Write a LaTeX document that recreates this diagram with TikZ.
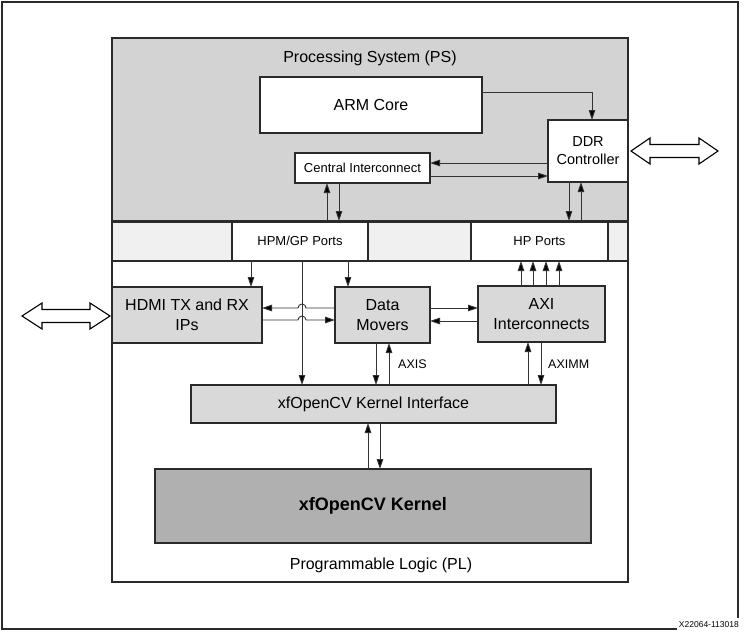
\documentclass[tikz,border=0pt]{standalone}
\usepackage{fontspec}
\setmainfont{Liberation Sans}
\usetikzlibrary{arrows.meta}
\definecolor{psgray}{HTML}{D3D3D3}
\definecolor{boxgray}{HTML}{D9D9D9}
\definecolor{kgray}{HTML}{B0B0B0}
\definecolor{stripgray}{HTML}{F0F0F0}
\definecolor{edge}{HTML}{2A2A2A}
\definecolor{wire}{HTML}{333333}
\begin{document}
\begin{tikzpicture}[x=1pt,y=-1pt,
  blk/.style={draw=edge, line width=1.3pt, inner sep=0pt, outer sep=0pt, align=center,
    font=\fontsize{16}{20}\selectfont},
  whitebox/.style={blk, fill=white},
  graybox/.style={blk, fill=boxgray},
  cell/.style={blk, fill=stripgray},
  portcell/.style={blk, fill=white, font=\fontsize{13}{15}\selectfont},
  arr/.style={-{Triangle[length=10pt,width=6.5pt,fill=black]}, line width=0.9pt, draw=wire},
  lbl/.style={inner sep=0pt, font=\fontsize{16}{20}\selectfont},
  small/.style={inner sep=0pt, font=\fontsize{12.5}{15}\selectfont},
  dblarrow/.style={draw=black, line width=1.1pt, fill=white, line join=miter}
]
\useasboundingbox (0,0) rectangle (745,635);

% outer frame
\draw[line width=1.6pt, draw=edge] (677,629) -- (2,629) -- (2,2) -- (738,2) -- (738,618);
\node[inner sep=0pt, anchor=east, font=\fontsize{8.5}{9}\selectfont] (fig) at (739,624.5) {X22064-113018};

% PS, strip, PL
\node[blk, fill=psgray, minimum width=516pt, minimum height=183pt] (ps) at (370,129.5) {};
\node[cell, minimum width=120pt, minimum height=40pt] (s1) at (172,241) {};
\node[portcell, minimum width=136pt, minimum height=40pt] (hpm) at (300,241) {HPM/GP Ports};
\node[cell, minimum width=103pt, minimum height=40pt] (s3) at (419.5,241) {};
\node[portcell, minimum width=137pt, minimum height=40pt] (hp) at (539.5,241) {HP Ports};
\node[cell, minimum width=20pt, minimum height=40pt] (s5) at (618,241) {};
\node[whitebox, minimum width=516pt, minimum height=321pt] (pl) at (370,421.5) {};
\draw[line width=3pt, draw=edge] (ps.south west) -- (ps.south east);

\node[lbl] (pslabel) at (370,58) {Processing System (PS)};
\node[lbl] (pllabel) at (381,565) {Programmable Logic (PL)};

% PS blocks
\node[whitebox, minimum width=222pt, minimum height=56pt] (arm) at (371,105) {ARM Core};
\node[whitebox, minimum width=80pt, minimum height=62pt, font=\fontsize{14.5}{18}\selectfont] (ddr) at (588,151) {DDR\\Controller};
\node[whitebox, minimum width=135pt, minimum height=30pt, font=\fontsize{13}{15}\selectfont] (ci) at (362.5,168) {Central Interconnect};

% PL blocks
\node[graybox, minimum width=150pt, minimum height=56pt] (hdmi) at (187,315) {HDMI TX and RX\\IPs};
\node[graybox, minimum width=95pt, minimum height=56pt] (dm) at (382.5,315) {Data\\Movers};
\node[graybox, minimum width=127pt, minimum height=56pt] (axi) at (541.5,314) {AXI\\Interconnects};
\node[graybox, minimum width=365pt, minimum height=38pt] (ki) at (373.5,404) {xfOpenCV Kernel Interface};
\node[blk, fill=kgray, minimum width=436pt, minimum height=74pt, font=\fontsize{18}{22}\selectfont\bfseries] (kern) at (373,506) {xfOpenCV Kernel};

% external double arrows
\draw[dblarrow] (631,151) -- (650,138) -- (650,144.5) -- (699,144.5) -- (699,138) -- (718,151)
  -- (699,164) -- (699,157.5) -- (650,157.5) -- (650,164) -- cycle;
\draw[dblarrow] (22,316) -- (42,303) -- (42,309.5) -- (90,309.5) -- (90,303) -- (110,316)
  -- (90,329) -- (90,322.5) -- (42,322.5) -- (42,329) -- cycle;

% PS connectors
\draw[arr] (arm.east |- 0,92) -| (ddr.north -| 592,0);
\draw[arr] (ddr.west |- 0,163) -- (ci.east |- 0,163);
\draw[arr] (ci.east |- 0,176) -- (ddr.west |- 0,176);
\draw[arr] (hpm.north -| 327,0) -- (ci.south -| 327,0);
\draw[arr] (ci.south -| 339,0) -- (hpm.north -| 339,0);
\draw[arr] (ddr.south -| 569,0) -- (hp.north -| 569,0);
\draw[arr] (hp.north -| 581,0) -- (ddr.south -| 581,0);

% PL connectors
\draw[arr] (hpm.south -| 251,0) -- (hdmi.north -| 251,0);
\draw[arr] (hpm.south -| 348,0) -- (dm.north -| 348,0);
\draw[arr] (hpm.south -| 302,0) -- (ki.north -| 302,0);
\draw[arr] (dm.west |- 0,308) -- (306,308) arc[start angle=0, end angle=180, radius=4pt] -- (hdmi.east |- 0,308);
\draw[arr] (hdmi.east |- 0,320) -- (298,320) arc[start angle=180, end angle=0, radius=4pt] -- (dm.west |- 0,320);
\draw[arr] (dm.east |- 0,308) -- (axi.west |- 0,308);
\draw[arr] (axi.west |- 0,321) -- (dm.east |- 0,321);
\foreach \xx in {521,533,546,559} {
  \draw[arr] (axi.north -| \xx,0) -- (hp.south -| \xx,0);
}
\draw[arr] (dm.south -| 376,0) -- (ki.north -| 376,0);
\draw[arr] (ki.north -| 389,0) -- (dm.south -| 389,0);
\draw[arr] (ki.north -| 528,0) -- (axi.south -| 528,0);
\draw[arr] (axi.south -| 541,0) -- (ki.north -| 541,0);
\draw[arr] (kern.north -| 368,0) -- (ki.south -| 368,0);
\draw[arr] (ki.south -| 380,0) -- (kern.north -| 380,0);

\node[small, anchor=west] (axis) at (398,364) {AXIS};
\node[small, anchor=west] (aximm) at (548,364) {AXIMM};
\end{tikzpicture}
\end{document}
